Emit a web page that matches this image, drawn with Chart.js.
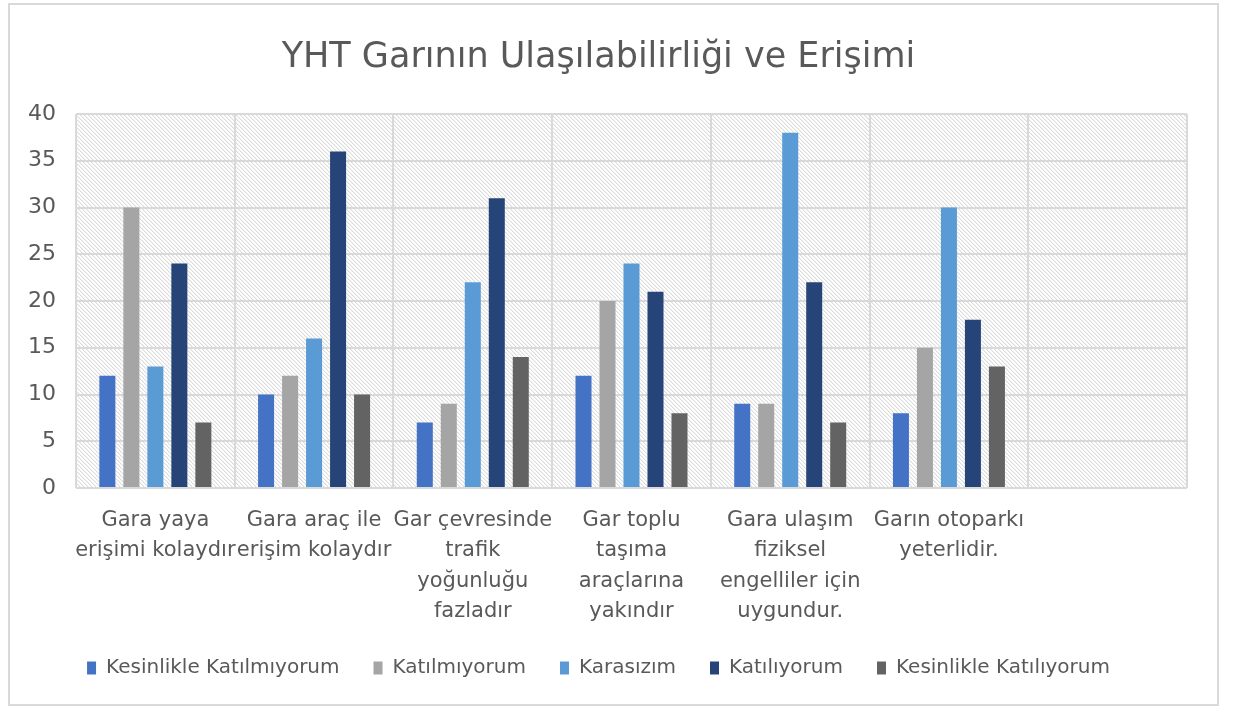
<!DOCTYPE html>
<html lang="tr">
<head>
    <meta charset="UTF-8">
    <title>YHT Garının Ulaşılabilirliği ve Erişimi</title>
    <script src="https://cdn.jsdelivr.net/npm/chart.js"></script>
    <style>
        body {
            margin: 0;
            background-color: #fff;
        }
        .frame {
            position: absolute;
            left: 8px;
            top: 3px;
            width: 1211px;
            height: 703px;
            border: 2px solid #d9d9d9;
            box-sizing: border-box;
        }
    </style>
</head>
<body>

    <div class="frame">
        <canvas id="ulasimChart" width="1207" height="699"></canvas>
    </div>

    <script>
        // Data
        const categories = [
            ['Gara yaya', 'erişimi kolaydır'],
            ['Gara araç ile', 'erişim kolaydır'],
            ['Gar çevresinde', 'trafik', 'yoğunluğu', 'fazladır'],
            ['Gar toplu', 'taşıma', 'araçlarına', 'yakındır'],
            ['Gara ulaşım', 'fiziksel', 'engelliler için', 'uygundur.'],
            ['Garın otoparkı', 'yeterlidir.'],
            ''
        ];
        const seriesNames = ['Kesinlikle Katılmıyorum', 'Katılmıyorum', 'Karasızım', 'Katılıyorum', 'Kesinlikle Katılıyorum'];
        const kesinlikleKatilmiyorum = [12, 10, 7, 12, 9, 8, null];
        const katilmiyorum = [30, 12, 9, 20, 9, 15, null];
        const karasizim = [13, 16, 22, 24, 38, 30, null];
        const katiliyorum = [24, 36, 31, 21, 22, 18, null];
        const kesinlikleKatiliyorum = [7, 10, 14, 8, 7, 13, null];
        const yTicks = [0, 5, 10, 15, 20, 25, 30, 35, 40];

        const colors = ['#4472c4', '#a5a5a5', '#5b9bd5', '#264478', '#636363'];
        const values = [kesinlikleKatilmiyorum, katilmiyorum, karasizim, katiliyorum, kesinlikleKatiliyorum];

        // hatched plot background
        const tile = document.createElement('canvas');
        tile.width = 4;
        tile.height = 4;
        const tctx = tile.getContext('2d');
        tctx.fillStyle = '#fff';
        tctx.fillRect(0, 0, 4, 4);
        for (let i = 0; i < 4; i++) {
            tctx.fillStyle = '#dcdcdc';
            tctx.fillRect(i, i, 1, 1);
            tctx.fillStyle = '#f1f1f1';
            tctx.fillRect((i + 1) % 4, i, 1, 1);
        }

        const hatchBackground = {
            id: 'hatchBackground',
            beforeDraw(chart) {
                const { ctx, chartArea } = chart;
                ctx.save();
                ctx.fillStyle = ctx.createPattern(tile, 'repeat');
                ctx.fillRect(chartArea.left, chartArea.top, chartArea.right - chartArea.left, chartArea.bottom - chartArea.top);
                ctx.restore();
            }
        };

        const textColor = '#595959';
        const fontFamily = '"DejaVu Sans", sans-serif';

        const ctx = document.getElementById('ulasimChart').getContext('2d');
        const ulasimChart = new Chart(ctx, {
            type: 'bar',
            data: {
                labels: categories,
                datasets: seriesNames.map((name, i) => ({
                    label: name,
                    data: values[i],
                    backgroundColor: colors[i],
                    borderWidth: 0,
                    categoryPercentage: 0.756,
                    barPercentage: 0.667
                }))
            },
            options: {
                responsive: false,
                animation: false,
                layout: {
                    padding: { left: 0, right: 30, top: 0, bottom: 16 }
                },
                plugins: {
                    title: {
                        display: true,
                        text: 'YHT Garının Ulaşılabilirliği ve Erişimi',
                        color: textColor,
                        font: { family: fontFamily, size: 35, weight: 'normal' },
                        padding: { top: 32, bottom: 35 }
                    },
                    legend: {
                        position: 'bottom',
                        labels: {
                            color: textColor,
                            font: { family: fontFamily, size: 20 },
                            boxWidth: 9,
                            boxHeight: 13,
                            padding: 34
                        }
                    },
                    tooltip: { enabled: false }
                },
                scales: {
                    x: {
                        grid: {
                            offset: true,
                            color: '#d9d9d9',
                            lineWidth: 2,
                            drawTicks: false
                        },
                        border: { display: false },
                        ticks: {
                            color: textColor,
                            font: { family: fontFamily, size: 21, lineHeight: 1.43 },
                            padding: 18,
                            maxRotation: 0,
                            autoSkip: false
                        },
                        afterFit(scale) {
                            scale.height = 136;
                        }
                    },
                    y: {
                        min: 0,
                        max: 40,
                        grid: {
                            color: '#d9d9d9',
                            lineWidth: 2,
                            drawTicks: false
                        },
                        border: { display: false },
                        ticks: {
                            stepSize: 5,
                            color: textColor,
                            font: { family: fontFamily, size: 22 },
                            padding: 20
                        },
                        afterBuildTicks(scale) {
                            scale.ticks = yTicks.map(v => ({ value: v }));
                        },
                        afterFit(scale) {
                            scale.width = 66;
                        }
                    }
                }
            },
            plugins: [hatchBackground]
        });
    </script>

</body>
</html>
